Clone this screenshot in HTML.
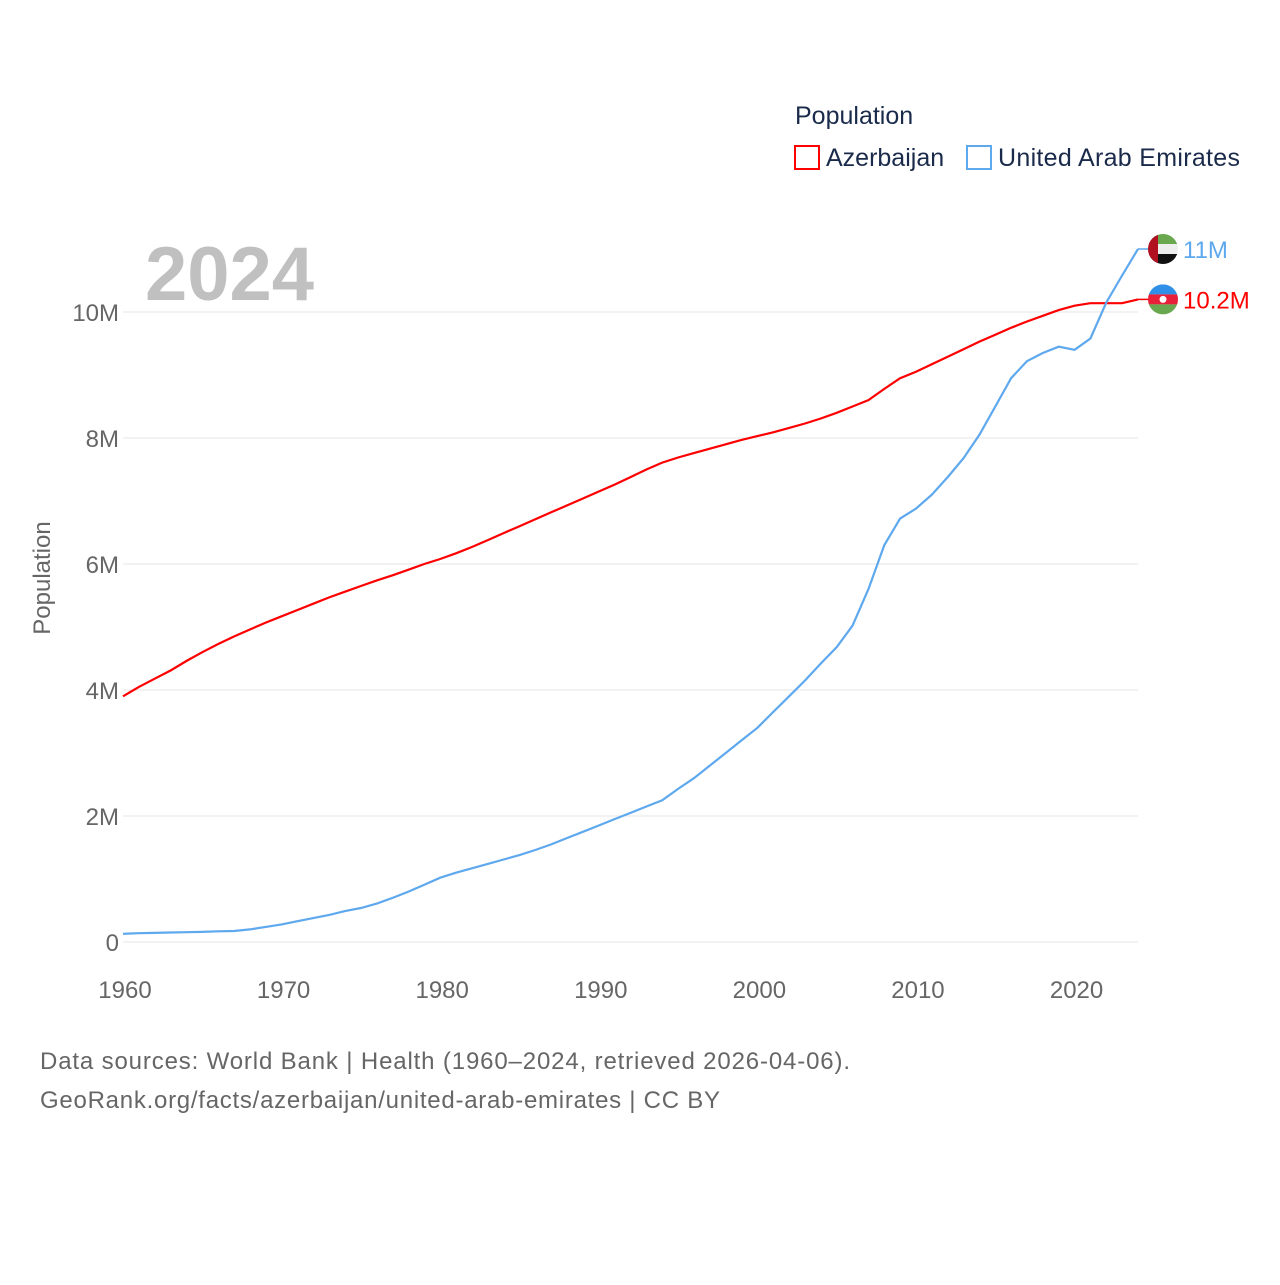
<!DOCTYPE html>
<html><head><meta charset="utf-8"><style>
body{margin:0;background:#fff;font-family:"Liberation Sans",sans-serif;}
svg text{font-family:"Liberation Sans",sans-serif;}
</style></head><body>
<svg id="chart" width="1280" height="1280" xmlns="http://www.w3.org/2000/svg">
<text x="795" y="124" font-size="25" fill="#1a2a4a">Population</text>
<rect x="795" y="146" width="24" height="23" fill="none" stroke="#ff0000" stroke-width="2"/>
<text x="826" y="166" font-size="25" fill="#1a2a4a">Azerbaijan</text>
<rect x="967" y="146" width="24" height="23" fill="none" stroke="#5ea8ee" stroke-width="2"/>
<text x="998" y="166" font-size="25" fill="#1a2a4a" textLength="242">United Arab Emirates</text>
<text x="145" y="300" font-size="76" font-weight="bold" fill="#c0c0c0">2024</text>
<text transform="translate(50,578) rotate(-90)" text-anchor="middle" font-size="24" fill="#666">Population</text>
<g id="grid"></g><g id="lines"></g><g id="ends"></g>
<text x="40" y="1069" font-size="24" fill="#666" textLength="810">Data sources: World Bank | Health (1960–2024, retrieved 2026-04-06).</text>
<text x="40" y="1108" font-size="24" fill="#666" textLength="680">GeoRank.org/facts/azerbaijan/united-arab-emirates | CC BY</text>
</svg>
<script>
const years=[];for(let y=1960;y<=2024;y++)years.push(y);
const azerbaijan=[3.90,4.05,4.18,4.31,4.46,4.60,4.73,4.85,4.96,5.07,5.17,5.27,5.37,5.47,5.56,5.65,5.74,5.82,5.91,6.00,6.08,6.17,6.27,6.38,6.49,6.60,6.71,6.82,6.93,7.04,7.15,7.26,7.38,7.50,7.61,7.69,7.76,7.83,7.90,7.97,8.03,8.09,8.16,8.23,8.31,8.40,8.50,8.60,8.78,8.95,9.05,9.17,9.29,9.41,9.53,9.64,9.75,9.85,9.94,10.03,10.10,10.14,10.14,10.14,10.20];
const uaeVals=[0.13,0.14,0.145,0.15,0.155,0.16,0.17,0.175,0.20,0.24,
0.28,0.33,0.38,0.43,0.49,0.54,0.61,0.70,0.80,0.91,
1.02,1.10,1.17,1.24,1.31,1.38,1.46,1.55,1.65,1.75,
1.85,1.95,2.05,2.15,2.25,2.43,2.60,2.80,3.00,3.20,
3.40,3.65,3.90,4.15,4.42,4.68,5.02,5.60,6.30,6.72,
6.88,7.10,7.38,7.68,8.05,8.50,8.95,9.22,9.35,9.45,
9.40,9.58,10.15,10.58,11.0];
const yTicks=[0,2,4,6,8,10];
const yTickLabels=["0","2M","4M","6M","8M","10M"];
const xTicks=[1960,1970,1980,1990,2000,2010,2020];
const NS="http://www.w3.org/2000/svg";
const X=y=>123+(y-1960)*(1138-123)/64;
const Y=v=>942-v*63;
function mk(tag,attrs,parent){const e=document.createElementNS(NS,tag);for(const k in attrs)e.setAttribute(k,attrs[k]);parent.appendChild(e);return e;}
const grid=document.getElementById('grid'),lines=document.getElementById('lines'),ends=document.getElementById('ends');
yTicks.forEach((t,i)=>{
 const l=mk('line',{x1:123,x2:1138,y1:Y(t),y2:Y(t),stroke:'#e6e6e6','stroke-width':1},grid);
 
 
 const tx=mk('text',{x:119,y:Y(t)+9,'text-anchor':'end','font-size':24,fill:'#666'},grid);tx.textContent=yTickLabels[i];
 
 
});
xTicks.forEach(t=>{
 const tx=mk('text',{x:X(t)+2,y:998,'text-anchor':'middle','font-size':24,fill:'#666'},grid);tx.textContent=t;
 
 
});
function series(vals,color,name){
 const d=vals.map((v,i)=>(i?'L':'M')+X(years[i]).toFixed(1)+','+Y(v).toFixed(1)).join(' ');
 const p=mk('path',{d:d,fill:'none',stroke:color,'stroke-width':2.2},lines);
 
 
}
series(azerbaijan,'#ff0000','line-azerbaijan');
series(uaeVals,'#5ea8ee','line-uae');
function endLabel(val,color,label,colors,name){
 const ly=Y(val);
 mk('line',{x1:1138,y1:ly,x2:1150,y2:ly,stroke:color,'stroke-width':1.5},ends);
 const g=mk('g',{},ends);
 
 
 const cx=1163,r=15;
 const cp=mk('clipPath',{id:'c'+name},g);mk('circle',{cx:cx,cy:ly,r:r},cp);
 colors(g,cx,ly,r,'url(#c'+name+')');
 const t=mk('text',{x:1183,y:ly+9,'font-size':24,fill:color},ends);t.textContent=label;
 
 
}
endLabel(uaeVals[uaeVals.length-1],'#5ea8ee','11M',(g,cx,cy,r,c)=>{
 mk('rect',{x:cx-r,y:cy-r,width:2*r,height:10,fill:'#6aa84f','clip-path':c},g);
 mk('rect',{x:cx-r,y:cy-r+10,width:2*r,height:10,fill:'#eee','clip-path':c},g);
 mk('rect',{x:cx-r,y:cy-r+20,width:2*r,height:10,fill:'#111','clip-path':c},g);
 mk('rect',{x:cx-r,y:cy-r,width:10,height:2*r,fill:'#b01020','clip-path':c},g);
},'uae');
endLabel(azerbaijan[azerbaijan.length-1],'#ff0000','10.2M',(g,cx,cy,r,c)=>{
 mk('rect',{x:cx-r,y:cy-r,width:2*r,height:10,fill:'#3090e8','clip-path':c},g);
 mk('rect',{x:cx-r,y:cy-r+10,width:2*r,height:10,fill:'#e8203a','clip-path':c},g);
 mk('rect',{x:cx-r,y:cy-r+20,width:2*r,height:10,fill:'#6aa84f','clip-path':c},g);
 mk('circle',{cx:cx,cy:cy,r:3.5,fill:'#fff'},g);
},'azerbaijan');
</script>
</body></html>
